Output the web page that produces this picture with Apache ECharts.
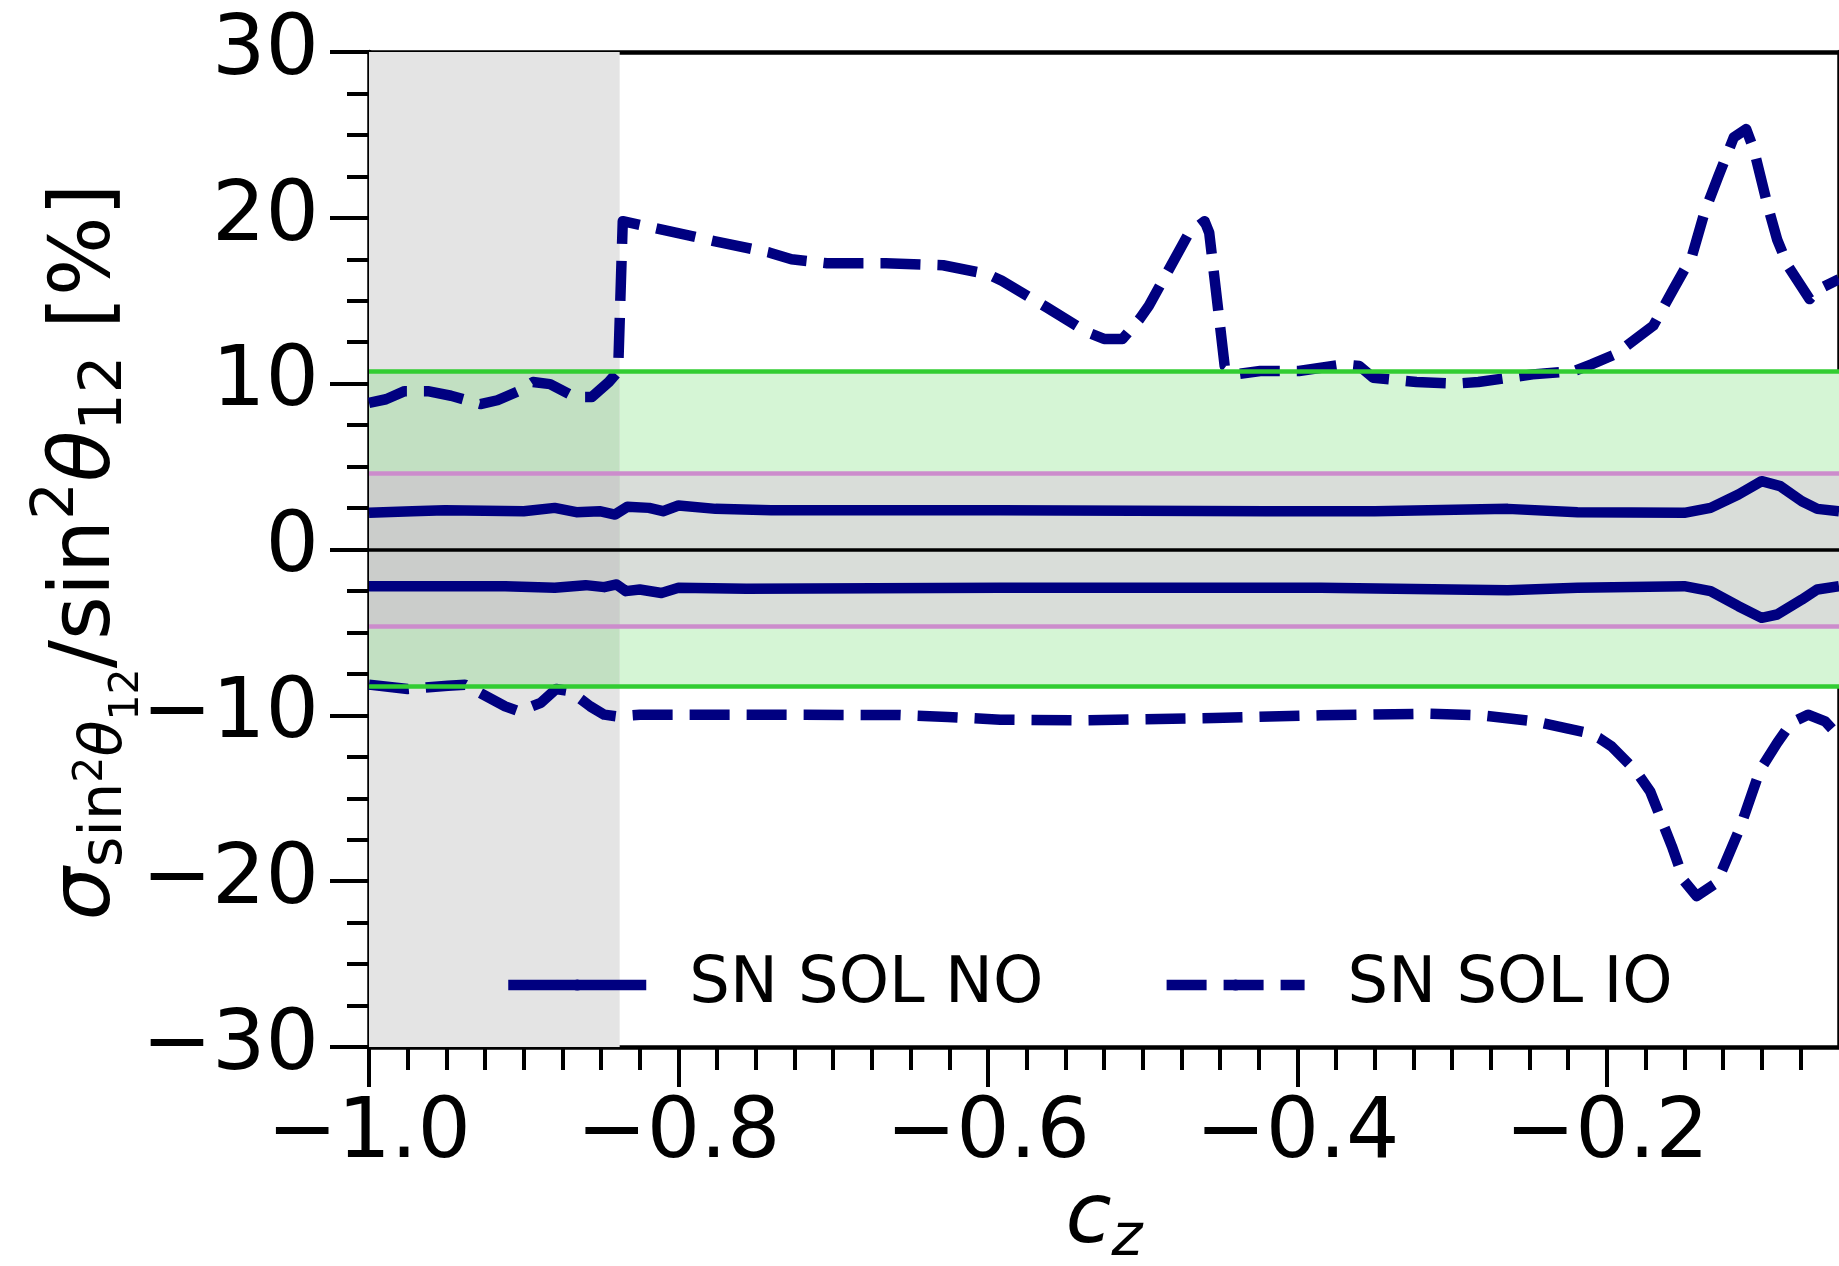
<!DOCTYPE html>
<html>
<head>
<meta charset="utf-8">
<script src="https://cdn.jsdelivr.net/npm/echarts@6/dist/echarts.min.js"></script>
<style>
  html, body { margin: 0; padding: 0; background: #ffffff; }
  #chart { width: 1839px; height: 1266px; }
</style>
</head>
<body>
<div id="chart"></div>
<script>
// ---- axis ranges and ticks ----
const xMin = -1.0, xMax = -0.05;
const xMajorTicks = [-1.0, -0.8, -0.6, -0.4, -0.2];
const yMin = -30, yMax = 30, yStep = 10;

// ---- relative uncertainty on sin^2(theta12), [c_z, %] ----
const noUpper = [
  [-1.000, 2.21], [-0.972, 2.31], [-0.951, 2.37], [-0.900, 2.31], [-0.880, 2.51],
  [-0.866, 2.25], [-0.851, 2.31], [-0.841, 2.11], [-0.833, 2.58], [-0.819, 2.51],
  [-0.810, 2.31], [-0.800, 2.65], [-0.776, 2.45], [-0.740, 2.37], [-0.592, 2.37],
  [-0.420, 2.31], [-0.350, 2.31], [-0.264, 2.45], [-0.219, 2.25], [-0.150, 2.21],
  [-0.133, 2.51], [-0.115, 3.32], [-0.100, 4.12], [-0.088, 3.82], [-0.074, 2.91],
  [-0.064, 2.45], [-0.050, 2.31]
];
const noLower = [
  [-1.000, -2.21], [-0.972, -2.21], [-0.912, -2.21], [-0.880, -2.31], [-0.860, -2.15],
  [-0.848, -2.27], [-0.840, -2.11], [-0.834, -2.51], [-0.825, -2.41], [-0.811, -2.62],
  [-0.800, -2.31], [-0.756, -2.37], [-0.592, -2.31], [-0.385, -2.31], [-0.264, -2.45],
  [-0.219, -2.31], [-0.150, -2.21], [-0.133, -2.51], [-0.115, -3.42], [-0.100, -4.12],
  [-0.090, -3.92], [-0.074, -3.02], [-0.064, -2.41], [-0.050, -2.21]
];
const ioUpper = [
  [-1.000, 8.84], [-0.989, 9.06], [-0.977, 9.55], [-0.962, 9.55], [-0.947, 9.27],
  [-0.928, 8.77], [-0.917, 9.00], [-0.902, 9.60], [-0.894, 10.10], [-0.883, 9.97],
  [-0.867, 9.20], [-0.856, 9.20], [-0.845, 10.10], [-0.839, 10.75], [-0.836, 19.80],
  [-0.816, 19.40], [-0.777, 18.60], [-0.741, 17.90], [-0.727, 17.50], [-0.704, 17.26],
  [-0.666, 17.26], [-0.629, 17.14], [-0.600, 16.60], [-0.591, 16.20], [-0.562, 14.60],
  [-0.536, 13.10], [-0.525, 12.70], [-0.513, 12.70], [-0.502, 13.90], [-0.496, 14.70],
  [-0.470, 19.10], [-0.460, 19.80], [-0.457, 19.10], [-0.447, 11.06], [-0.440, 10.56],
  [-0.424, 10.76], [-0.399, 10.76], [-0.370, 11.16], [-0.360, 11.06], [-0.351, 10.36],
  [-0.323, 10.10], [-0.298, 10.00], [-0.283, 10.10], [-0.248, 10.56], [-0.221, 10.76],
  [-0.210, 11.16], [-0.194, 11.80], [-0.179, 12.87], [-0.170, 13.50], [-0.157, 15.70],
  [-0.145, 17.70], [-0.137, 20.30], [-0.128, 22.50], [-0.118, 24.85], [-0.110, 25.35],
  [-0.105, 24.10], [-0.096, 20.70], [-0.090, 18.70], [-0.083, 17.10], [-0.069, 15.10],
  [-0.063, 15.70], [-0.050, 16.30]
];
const ioLower = [
  [-1.000, -8.15], [-0.975, -8.41], [-0.949, -8.21], [-0.938, -8.15], [-0.912, -9.46],
  [-0.903, -9.76], [-0.889, -9.25], [-0.879, -8.41], [-0.870, -8.55], [-0.857, -9.46],
  [-0.848, -9.96], [-0.840, -10.06], [-0.825, -9.96], [-0.756, -9.96], [-0.658, -9.98],
  [-0.626, -10.10], [-0.592, -10.26], [-0.541, -10.30], [-0.454, -10.16], [-0.385, -10.00],
  [-0.316, -9.90], [-0.281, -10.00], [-0.247, -10.36], [-0.212, -11.06], [-0.205, -11.37],
  [-0.197, -11.87], [-0.181, -13.38], [-0.172, -14.59], [-0.158, -17.90], [-0.150, -20.00],
  [-0.142, -20.90], [-0.129, -20.10], [-0.114, -16.80], [-0.101, -13.30], [-0.090, -11.67],
  [-0.081, -10.46], [-0.070, -9.96], [-0.059, -10.36], [-0.050, -11.27]
];

// ---- reference bands ----
const greyEnd = -0.838;           // right edge of the shaded c_z region
const greenBand = [-8.25, 10.76]; // outer band
const innerBand = [-4.6, 4.6];    // inner band

const FONT = 'DejaVu Sans';
const NAVY = '#000080';
const LW = 10.5;
const DASH = [40, 17];

const minus = s => String(s).replace('-', '\u2212');

const chart = echarts.init(document.getElementById('chart'), null, { renderer: 'canvas' });

const rect = (x0, y0, x1, y1, color) => [
  { coord: [x0, y0], itemStyle: { color: color, opacity: 1 } },
  { coord: [x1, y1] }
];
const hline = (y, color, width) => ({
  yAxis: y, lineStyle: { color: color, width: width, type: 'solid', opacity: 1 }
});

const option = {
  animation: false,
  backgroundColor: '#ffffff',
  grid: {
    left: 369, top: 52, width: 1470, height: 995,
    containLabel: false, outerBoundsMode: 'none'
  },
  xAxis: [
    {
      type: 'value', position: 'bottom', min: xMin, max: xMax, interval: 0.2,
      axisLine: { show: true, onZero: false, lineStyle: { color: '#000', width: 4.5 } },
      axisTick: { show: true, customValues: xMajorTicks, length: 40, lineStyle: { color: '#000', width: 4 } },
      minorTick: { show: true, splitNumber: 8, length: 23, lineStyle: { color: '#000', width: 4 } },
      axisLabel: {
        show: true, customValues: xMajorTicks, margin: 46,
        fontFamily: FONT, fontSize: 84, color: '#000',
        formatter: v => minus(Number(v).toFixed(1))
      },
      splitLine: { show: false }, minorSplitLine: { show: false },
      name: '{c|c}{z|z}', nameLocation: 'middle', nameGap: 131, nameMoveOverlap: false,
      nameTextStyle: {
        rich: {
          c: { fontFamily: FONT, fontStyle: 'italic', fontSize: 84, lineHeight: 84, color: '#000' },
          z: { fontFamily: FONT, fontStyle: 'italic', fontSize: 59, lineHeight: 84, color: '#000', padding: [40, 0, 0, 0] }
        }
      }
    },
    {
      type: 'value', position: 'top', min: xMin, max: xMax,
      axisLine: { show: true, onZero: false, lineStyle: { color: '#000', width: 4.5 } },
      axisTick: { show: false }, axisLabel: { show: false }, splitLine: { show: false }
    }
  ],
  yAxis: [
    {
      type: 'value', position: 'left', min: yMin, max: yMax, interval: yStep,
      axisLine: { show: true, onZero: false, lineStyle: { color: '#000', width: 4.5 } },
      axisTick: { show: true, length: 39, lineStyle: { color: '#000', width: 4 } },
      minorTick: { show: true, splitNumber: 4, length: 22, lineStyle: { color: '#000', width: 4 } },
      axisLabel: {
        show: true, margin: 50, fontFamily: FONT, fontSize: 84, color: '#000',
        padding: [4, 0, 0, 0],
        formatter: v => minus(v)
      },
      splitLine: { show: false }, minorSplitLine: { show: false }
    },
    {
      type: 'value', position: 'right', min: yMin, max: yMax,
      axisLine: { show: true, onZero: false, lineStyle: { color: '#000', width: 4.5 } },
      axisTick: { show: false }, axisLabel: { show: false }, splitLine: { show: false }
    }
  ],
  legend: {
    data: [
      { name: 'SN SOL NO', lineStyle: { type: 'solid', width: LW } },
      { name: 'SN SOL IO', lineStyle: { type: DASH, width: LW, cap: 'butt' } }
    ],
    left: 503, top: 953, padding: 0,
    itemWidth: 138, itemHeight: 14, itemGap: 118,
    lineStyle: { width: LW },
    textStyle: { fontFamily: FONT, fontSize: 64, color: '#000', padding: [0, 0, 0, 38] },
    selectedMode: false
  },
  graphic: [
    {
      type: 'text', x: 87, y: 552, rotation: Math.PI / 2, silent: true,
      style: {
        text: '{mi|\u03c3}{s|sin}{ss|2}{si|\u03b8}{sss|12}{m|/sin}{sup|2}{mi|\u03b8}{s|12}{m| [%]}',
        align: 'center', verticalAlign: 'middle', fill: '#000',
        rich: {
          m:   { fontFamily: FONT, fontSize: 84, lineHeight: 84, fill: '#000' },
          mi:  { fontFamily: FONT, fontSize: 84, lineHeight: 84, fontStyle: 'italic', fill: '#000' },
          s:   { fontFamily: FONT, fontSize: 59, lineHeight: 84, padding: [38, 0, 0, 0], fill: '#000' },
          si:  { fontFamily: FONT, fontSize: 59, lineHeight: 84, fontStyle: 'italic', padding: [38, 0, 0, 0], fill: '#000' },
          ss:  { fontFamily: FONT, fontSize: 41, lineHeight: 84, padding: [8, 0, 0, 0], fill: '#000' },
          sss: { fontFamily: FONT, fontSize: 41, lineHeight: 84, padding: [80, 0, 0, 0], fill: '#000' },
          sup: { fontFamily: FONT, fontSize: 59, lineHeight: 84, padding: [0, 0, 58, 0], fill: '#000' }
        }
      }
    }
  ],
  series: [
    {
      name: 'bands', type: 'line', data: [], z: 1, silent: true,
      markArea: {
        silent: true, label: { show: false },
        data: [
          rect(xMin, yMin, greyEnd, yMax, '#e4e4e4'),
          rect(greyEnd, greenBand[0], xMax, greenBand[1], '#d5f5d5'),
          rect(xMin, greenBand[0], greyEnd, greenBand[1], '#c2e0c2'),
          rect(greyEnd, innerBand[0], xMax, innerBand[1], '#d9ddd9'),
          rect(xMin, innerBand[0], greyEnd, innerBand[1], '#cbcdcb')
        ]
      }
    },
    {
      name: 'band edges', type: 'line', data: [], z: 2, silent: true,
      markLine: {
        silent: true, symbol: ['none', 'none'], label: { show: false },
        data: [
          hline(greenBand[1], '#32cd32', 4.5),
          hline(greenBand[0], '#32cd32', 4.5),
          hline(innerBand[1], '#cc8ccc', 4.5),
          hline(innerBand[0], '#cc8ccc', 4.5),
          hline(0, '#000000', 3.5)
        ]
      }
    },
    {
      name: 'SN SOL NO', type: 'line', data: noUpper, z: 4, symbol: 'none', showSymbol: false,
      lineStyle: { color: NAVY, width: LW, type: 'solid', join: 'round', cap: 'butt' },
      itemStyle: { color: NAVY }
    },
    {
      name: 'SN SOL NO', type: 'line', data: noLower, z: 4, symbol: 'none', showSymbol: false,
      lineStyle: { color: NAVY, width: LW, type: 'solid', join: 'round', cap: 'butt' },
      itemStyle: { color: NAVY }
    },
    {
      name: 'SN SOL IO', type: 'line', data: ioUpper, z: 4, symbol: 'none', showSymbol: false,
      lineStyle: { color: NAVY, width: LW, type: DASH, join: 'round', cap: 'butt' },
      itemStyle: { color: NAVY }
    },
    {
      name: 'SN SOL IO', type: 'line', data: ioLower, z: 4, symbol: 'none', showSymbol: false,
      lineStyle: { color: NAVY, width: LW, type: DASH, join: 'round', cap: 'butt' },
      itemStyle: { color: NAVY }
    }
  ]
};

chart.setOption(option);
</script>
</body>
</html>
